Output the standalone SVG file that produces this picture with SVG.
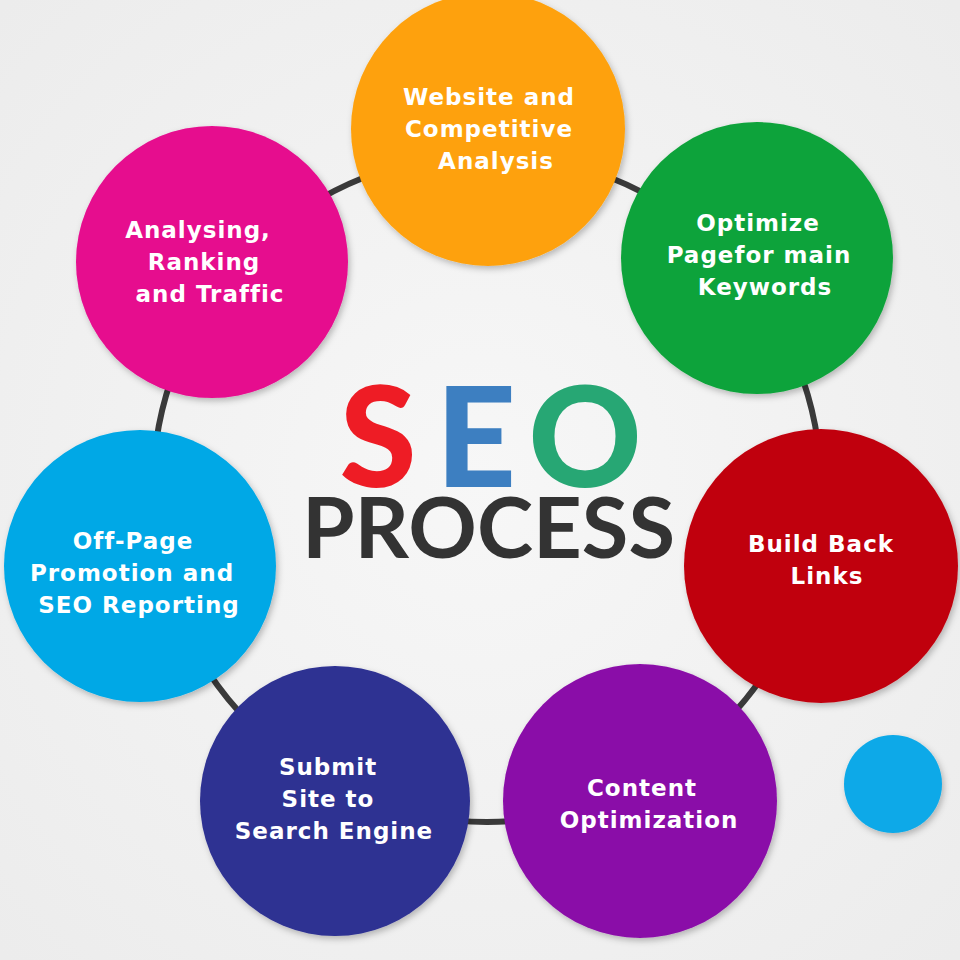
<svg xmlns="http://www.w3.org/2000/svg" width="960" height="960" viewBox="0 0 960 960">
<defs>
<filter id="sh" x="-20%" y="-20%" width="140%" height="140%">
<feDropShadow dx="2" dy="3" stdDeviation="3" flood-color="#000" flood-opacity="0.25"/>
</filter>
<radialGradient id="bg" cx="50%" cy="50%" r="70%">
<stop offset="0" stop-color="#f7f7f7"/>
<stop offset="1" stop-color="#ececec"/>
</radialGradient>
</defs>
<style>
.node circle{filter:url(#sh)}
.lbl{font-family:"DejaVu Sans","Liberation Sans",sans-serif;font-weight:bold;font-size:23px;fill:#fff;text-anchor:middle;letter-spacing:1px}
.seo{font-family:Lato,"Open Sans",sans-serif;font-weight:900;font-size:140px;text-anchor:middle}
</style>
<rect width="960" height="960" fill="url(#bg)"/>
<g id="connectors">
<circle cx="487" cy="488" r="334" fill="none" stroke="#3a3a3a" stroke-width="6"/>
</g>
<g id="title">
<text class="seo" x="378" y="487" fill="#ee1c25">S</text>
<text class="seo" x="476" y="487" fill="#3d7fc1">E</text>
<text class="seo" x="585" y="487" fill="#27a774">O</text>
<text x="302" y="558" font-family="Lato,'Open Sans',sans-serif" font-weight="bold" font-size="84" fill="#333" textLength="373" lengthAdjust="spacingAndGlyphs">PROCESS</text>
</g>
<g id="n1" class="node">
<circle cx="488" cy="129" r="137" fill="#fea10a"/>
<text class="lbl" x="489" y="105">Website and</text>
<text class="lbl" x="489" y="137">Competitive</text>
<text class="lbl" x="496" y="169">Analysis</text>
</g>
<g id="n2" class="node">
<circle cx="757" cy="258" r="136" fill="#0da33a"/>
<text class="lbl" x="758" y="231">Optimize</text>
<text class="lbl" x="759" y="263">Pagefor main</text>
<text class="lbl" x="765" y="295">Keywords</text>
</g>
<g id="n3" class="node">
<circle cx="821" cy="566" r="137" fill="#c0000e"/>
<text class="lbl" x="821" y="552">Build Back</text>
<text class="lbl" x="827" y="584">Links</text>
</g>
<g id="n4" class="node">
<circle cx="640" cy="801" r="137" fill="#8a0aa8"/>
<text class="lbl" x="642" y="796">Content</text>
<text class="lbl" x="649" y="828">Optimization</text>
</g>
<g id="n5" class="node">
<circle cx="335" cy="801" r="135" fill="#2e3192"/>
<text class="lbl" x="328" y="775">Submit</text>
<text class="lbl" x="328" y="807">Site to</text>
<text class="lbl" x="334" y="839">Search Engine</text>
</g>
<g id="n6" class="node">
<circle cx="140" cy="566" r="136" fill="#00a8e6"/>
<text class="lbl" x="133" y="549">Off-Page</text>
<text class="lbl" x="132" y="581">Promotion and</text>
<text class="lbl" x="139" y="613">SEO Reporting</text>
</g>
<g id="n7" class="node">
<circle cx="212" cy="262" r="136" fill="#e6098e"/>
<text class="lbl" x="198" y="238">Analysing,</text>
<text class="lbl" x="204" y="270">Ranking</text>
<text class="lbl" x="210" y="302">and Traffic</text>
</g>
<g id="dot" class="node">
<circle cx="893" cy="784" r="49" fill="#0aa9e8"/>
</g>
</svg>
